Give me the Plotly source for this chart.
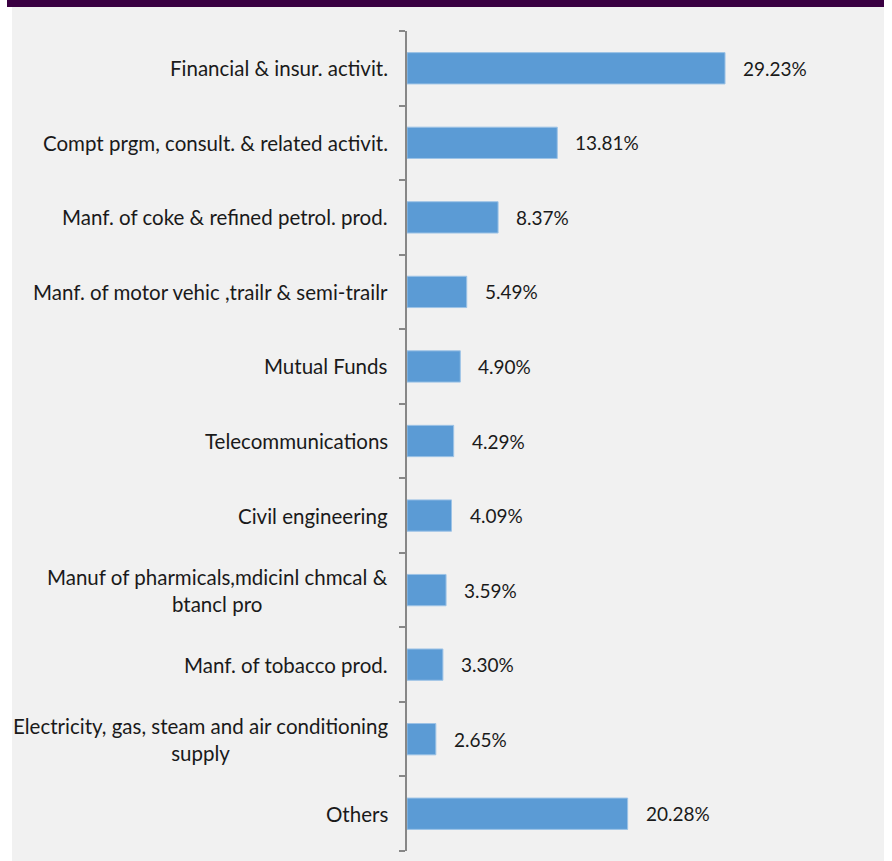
import plotly.graph_objects as go

categories = [
    "Financial & insur. activit.",
    "Compt prgm, consult. & related activit.",
    "Manf. of coke & refined petrol. prod.",
    "Manf. of motor vehic ,trailr & semi-trailr",
    "Mutual Funds",
    "Telecommunications",
    "Civil engineering",
    "Manuf of pharmicals,mdicinl chmcal &<br>btancl pro",
    "Manf. of tobacco prod.",
    "Electricity, gas, steam and air conditioning<br>supply",
    "Others",
]
shares = [29.23, 13.81, 8.37, 5.49, 4.90, 4.29, 4.09, 3.59, 3.30, 2.65, 20.28]
value_labels = ["29.23%", "13.81%", "8.37%", "5.49%", "4.90%", "4.29%",
                "4.09%", "3.59%", "3.30%", "2.65%", "20.28%"]

W, H = 892, 861
FONT = "Lato"
TEXT = "#1a1a1a"

fig = go.Figure(go.Bar(
    x=shares, y=categories, orientation="h",
    marker=dict(color="#5b9bd5", line=dict(color="#9dc3e6", width=1)),
    width=0.42, hoverinfo="skip",
))

annotations = []
for cat in categories:
    annotations.append(dict(
        x=0, y=cat, xref="paper", yref="y", text=cat, showarrow=False,
        xanchor="right", yanchor="middle", align="center", xshift=-17,
        font=dict(family=FONT, size=20.5, color=TEXT),
    ))
for cat, v, lab in zip(categories, shares, value_labels):
    annotations.append(dict(
        x=v, y=cat, xref="x", yref="y", text=lab, showarrow=False,
        xanchor="left", yanchor="middle", xshift=16,
        font=dict(family=FONT, size=19, color=TEXT),
    ))

shapes = [
    # grey panel
    dict(type="rect", xref="paper", yref="paper", layer="below",
         x0=(12 - 407) / (W - 407), x1=(884 - 407) / (W - 407),
         y0=-10 / (H - 41), y1=(H - 7 - 10) / (H - 41),
         fillcolor="#f1f1f1", line=dict(width=0)),
    # purple header band
    dict(type="rect", xref="paper", yref="paper", layer="below",
         x0=(7 - 407) / (W - 407), x1=(884 - 407) / (W - 407),
         y0=(H - 7 - 10) / (H - 41), y1=(H - 10) / (H - 41),
         fillcolor="#3a0042", line=dict(width=0)),
]

fig.update_layout(
    width=W, height=H,
    margin=dict(l=407, r=0, t=31, b=10),
    paper_bgcolor="white", plot_bgcolor="rgba(0,0,0,0)",
    showlegend=False,
    annotations=annotations, shapes=shapes,
    xaxis=dict(range=[0, (W - 407) / 10.88], visible=False, fixedrange=True),
    yaxis=dict(
        categoryorder="array", categoryarray=categories[::-1],
        showticklabels=False, showline=True, linecolor="#878787", linewidth=1.5,
        ticks="outside", ticklen=6, tickcolor="#878787", tickwidth=1.5,
        tickson="boundaries", showgrid=False, zeroline=False,
        range=[-0.5, len(categories) - 0.5],
    ),
)

fig.write_html("out.html")
